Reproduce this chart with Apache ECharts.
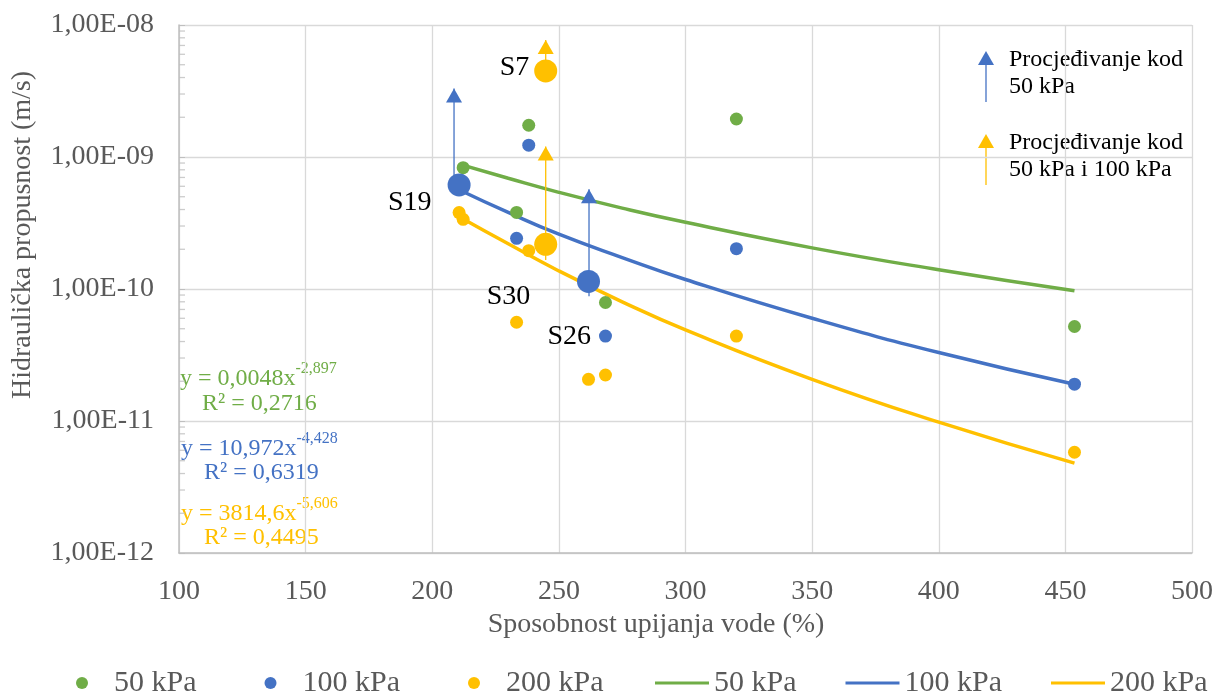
<!DOCTYPE html>
<html>
<head>
<meta charset="utf-8">
<script src="https://cdn.jsdelivr.net/npm/echarts@6/dist/echarts.min.js"></script>
<style>
  html, body { margin: 0; padding: 0; background: #fff; }
  #chart { width: 1220px; height: 693px; }
</style>
</head>
<body>
<div id="chart"></div>
<script>
// measured samples: [water absorption %, hydraulic conductivity m/s]
const pts50 = [[212.2, 8.3e-10], [233.3, 3.8e-10], [238.1, 1.74e-9], [268.4, 7.9e-11], [320.1, 1.94e-9], [453.6, 5.2e-11]];
const pts100 = [[233.3, 2.42e-10], [238.1, 1.23e-9], [268.4, 4.4e-11], [320.1, 2.02e-10], [453.6, 1.9e-11]];
const pts200 = [[210.6, 3.79e-10], [212.2, 3.37e-10], [233.3, 5.6e-11], [238.1, 1.95e-10], [261.7, 2.07e-11], [268.4, 2.23e-11], [320.1, 4.4e-11], [453.6, 5.8e-12]];

// highlighted samples (big markers)
const marked100 = [[210.6, 6.14e-10], [261.7, 1.14e-10]];
const marked100Names = ["S19", "S26"];
const marked200 = [[244.8, 4.49e-9], [244.8, 2.18e-10]];
const marked200Names = ["S7", "S30"];

// trend lines
const trendX = [211, 230, 250, 275, 300, 350, 400, 453.6];
const trend50 = [8.8e-10, 6.9e-10, 5.4e-10, 4.1e-10, 3.2e-10, 2.05e-10, 1.4e-10, 9.7e-11];
const trend100 = [5.6e-10, 3.8e-10, 2.6e-10, 1.73e-10, 1.18e-10, 6.0e-11, 3.3e-11, 1.9e-11];
const trend200 = [3.5e-10, 2.2e-10, 1.37e-10, 8.0e-11, 4.9e-11, 2.07e-11, 9.8e-12, 4.8e-12];

// seepage arrows
const arrowX = [208.6, 261.9, 244.8, 244.8];
const arrowFrom = [6.1e-10, 8.8e-11, 4.5e-9, 1.66e-10];
const arrowTo = [3.3e-9, 5.7e-10, 7.7e-9, 1.2e-9];
const arrowGroup = ["100", "100", "200", "200"];

const legendNames = ["50 kPa", "100 kPa", "200 kPa"];
const equations = [
  ["0,0048x", "-2,897", "R² = 0,2716"],
  ["10,972x", "-4,428", "R² = 0,6319"],
  ["3814,6x", "-5,606", "R² = 0,4495"]
];
const minorSteps = [2, 3, 4, 5, 6, 7, 8, 9];
const minorDecades = [1e-12, 1e-11, 1e-10, 1e-9];

const FONT = "Liberation Serif";
const GREY = "#595959";
const COLORS = { "50": "#70AD47", "100": "#4472C4", "200": "#FFC000" };
const colorList = [COLORS["50"], COLORS["100"], COLORS["200"]];
const LINE_ICON = "path://M0,0H54V3.2H0Z";

const chart = echarts.init(document.getElementById("chart"));

function fmtExp(v) {
  const e = Math.round(Math.log10(v));
  const a = Math.abs(e);
  return "1,00E" + (e < 0 ? "-" : "+") + (a < 10 ? "0" + a : a);
}

const minorTicks = [];
minorDecades.forEach(d => minorSteps.forEach(s => minorTicks.push([100, d * s])));

const series = [];

[trend50, trend100, trend200].forEach((arr, i) => {
  series.push({
    name: legendNames[i] + " ",
    type: "line",
    data: trendX.map((x, j) => [x, arr[j]]),
    symbol: "none",
    smooth: true,
    lineStyle: { color: colorList[i], width: 3.5 },
    itemStyle: { color: colorList[i] },
    z: 2
  });
});

arrowX.forEach((x, i) => {
  const c = COLORS[arrowGroup[i]];
  series.push({
    name: "arrow" + i,
    type: "line",
    data: [
      { value: [x, arrowFrom[i]], symbol: "none" },
      { value: [x, arrowTo[i]], symbol: "triangle", symbolSize: [16, 14], symbolOffset: [0, 7] }
    ],
    showAllSymbol: true,
    lineStyle: { color: c, width: 1.3 },
    itemStyle: { color: c },
    silent: true,
    z: 3
  });
});

[pts50, pts100, pts200].forEach((arr, i) => {
  series.push({
    name: legendNames[i],
    type: "scatter",
    data: arr,
    symbolSize: 13,
    itemStyle: { color: colorList[i], opacity: 1 },
    z: 4
  });
});

const labelOffsets = { S19: [-11, 18], S26: [19, 55], S7: [0, -3], S30: [1, 52] };

[[marked100, marked100Names, COLORS["100"]], [marked200, marked200Names, COLORS["200"]]].forEach(([arr, names, c], k) => {
  series.push({
    name: "marked" + k,
    type: "scatter",
    data: arr.map((p, j) => ({
      value: p,
      label: {
        show: true,
        formatter: names[j],
        position: "left",
        distance: 5,
        offset: labelOffsets[names[j]],
        fontFamily: FONT,
        fontSize: 28,
        color: "#000"
      }
    })),
    symbolSize: 23,
    itemStyle: { color: c, opacity: 1 },
    z: 5
  });
});

series.push({
  name: "minor",
  type: "scatter",
  data: minorTicks,
  symbol: "rect",
  symbolSize: [6, 1.3],
  symbolOffset: [3, 0],
  itemStyle: { color: "#BFBFBF" },
  silent: true,
  z: 1
});

const graphic = [
  {
    type: "text", x: 23, y: 235, rotation: Math.PI / 2,
    style: { text: "Hidraulička propusnost (m/s)", fontFamily: FONT, fontSize: 28, fill: GREY, align: "center", verticalAlign: "middle" }
  },
  {
    type: "text", x: 656, y: 625,
    style: { text: "Sposobnost upijanja vode (%)", fontFamily: FONT, fontSize: 28, fill: GREY, align: "center", verticalAlign: "middle" }
  }
];

const eqPos = [[180, 376, 202, 404], [181, 446, 204, 473], [181, 511, 204, 538]];
equations.forEach((eq, i) => {
  const p = eqPos[i];
  graphic.push({
    type: "text", x: p[0], y: p[1],
    style: {
      text: "{m|y = " + eq[0] + "}{s|" + eq[1] + "}",
      verticalAlign: "middle",
      fill: colorList[i],
      rich: {
        m: { fontFamily: FONT, fontSize: 24, lineHeight: 30, verticalAlign: "bottom", fill: colorList[i] },
        s: { fontFamily: FONT, fontSize: 16, lineHeight: 22, verticalAlign: "top", fill: colorList[i] }
      }
    }
  });
  graphic.push({
    type: "text", x: p[2], y: p[3],
    style: { text: eq[2], fontFamily: FONT, fontSize: 24, fill: colorList[i], verticalAlign: "middle" }
  });
});

// arrow key in the upper right
[[51, COLORS["100"], "Procjeđivanje kod\n50 kPa"], [134, COLORS["200"], "Procjeđivanje kod\n50 kPa i 100 kPa"]].forEach(([tip, c, txt]) => {
  graphic.push({
    type: "line", shape: { x1: 986, y1: tip + 14, x2: 986, y2: tip + 51 },
    style: { stroke: c, lineWidth: 1.3 }
  });
  graphic.push({
    type: "polygon", shape: { points: [[986, tip], [978, tip + 14], [994, tip + 14]] },
    style: { fill: c }
  });
  graphic.push({
    type: "text", x: 1009, y: tip - 5.5,
    style: { text: txt, fontFamily: FONT, fontSize: 24, lineHeight: 27.5, fill: "#000", verticalAlign: "top" }
  });
});

const legendBase = {
  top: 663,
  itemWidth: 54,
  itemHeight: 12,
  selectedMode: false,
  textStyle: { fontFamily: FONT, fontSize: 30, color: GREY },
  formatter: n => n.trim()
};

chart.setOption({
  animation: false,
  backgroundColor: "#fff",
  grid: { left: 179, right: 28, top: 25, bottom: 140 },
  xAxis: {
    type: "value",
    min: 100,
    max: 500,
    interval: 50,
    axisLine: { show: true, onZero: false, lineStyle: { color: "#BFBFBF", width: 1.5 } },
    axisTick: { show: false },
    splitLine: { show: true, lineStyle: { color: "#D9D9D9", width: 1.3 } },
    axisLabel: { fontFamily: FONT, fontSize: 28, color: GREY, margin: 25 }
  },
  yAxis: {
    type: "log",
    logBase: 10,
    min: 1e-12,
    max: 1e-8,
    axisLine: { show: true, lineStyle: { color: "#BFBFBF", width: 1.5 } },
    axisTick: { show: true, inside: true, length: 6, lineStyle: { color: "#BFBFBF" } },
    splitLine: { show: true, lineStyle: { color: "#D9D9D9", width: 1.3 } },
    axisLabel: { fontFamily: FONT, fontSize: 28, color: GREY, margin: 25, formatter: fmtExp }
  },
  legend: [
    Object.assign({}, legendBase, {
      left: 71,
      itemGap: 68,
      data: legendNames.map(n => ({ name: n, icon: "circle" }))
    }),
    Object.assign({}, legendBase, {
      left: 650,
      itemGap: 49,
      data: legendNames.map(n => ({ name: n + " ", icon: LINE_ICON }))
    })
  ],
  graphic: graphic,
  series: series
});
</script>
</body>
</html>
